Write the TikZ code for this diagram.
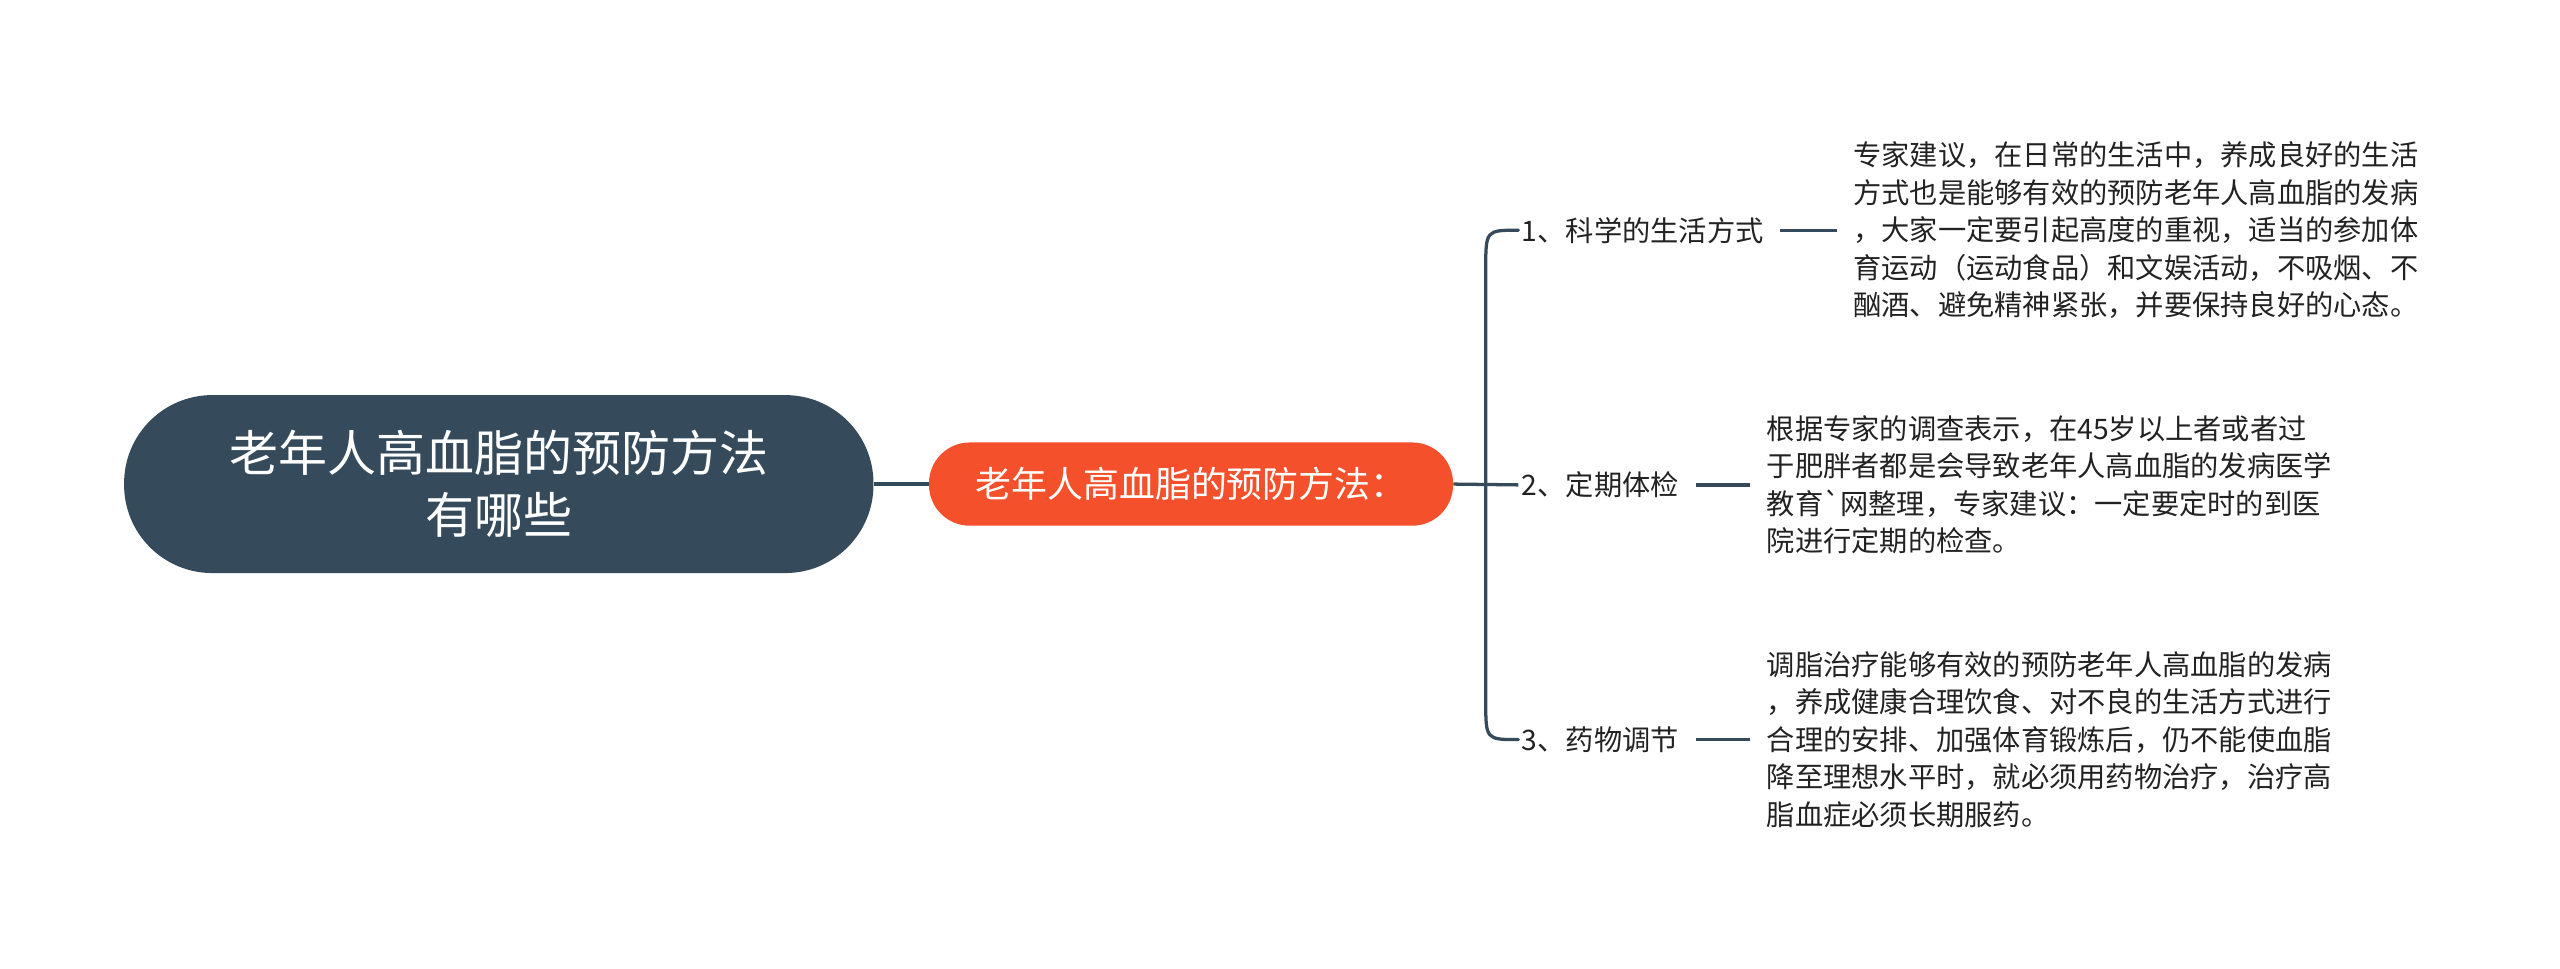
\documentclass[tikz,border=0pt]{standalone}
\usepackage{fontspec}
\setmainfont{Noto Sans CJK SC}
\newfontfamily\plainf{Noto Sans CJK SC}
\definecolor{dark}{HTML}{354A5A}
\definecolor{hot}{HTML}{F4502B}
\definecolor{txt}{HTML}{222222}
\tikzset{
  line/.style={draw=dark,line width=2pt},
  leaf/.style={anchor=west,align=left,text=txt,font=\fontsize{17.3}{23}\selectfont,inner sep=0pt},
  lab/.style={anchor=west,text=txt,font=\fontsize{17.3}{20}\selectfont,inner sep=2pt},
}
\begin{document}
\begin{tikzpicture}[x=1pt,y=-1pt]
\useasboundingbox[fill=white] (0,0) rectangle (1568,593);
\node[fill=dark,rounded corners=54pt,minimum width=459pt,minimum height=109pt,text=white,align=center,font=\fontsize{30}{38}\selectfont] (root) at (305.5,296.5) {老年人高血脂的预防方法\\有哪些};
\node[fill=hot,rounded corners=25pt,minimum width=321pt,minimum height=51pt,text=white,font=\fontsize{22}{26}\selectfont] (mid) at (729.5,296.5) {老年人高血脂的预防方法：};
\draw[line] (root.east) -- (mid.west);
\node[lab] (b1) at (930,141) {1、科学的生活方式};
\node[lab] (b2) at (930,297) {2、定期体检};
\node[lab] (b3) at (930,453) {3、药物调节};
\draw[line] (mid.east) -- (b2.west);
\draw[line,line cap=round] (b1.west) .. controls (910,141) .. (910,165) -- (910,429) .. controls (910,453) .. (b3.west);
\node[leaf] (t1) at (1135,141) {专家建议，在日常的生活中，养成良好的生活\\方式也是能够有效的预防老年人高血脂的发病\\，大家一定要引起高度的重视，适当的参加体\\育运动（运动食品）和文娱活动，不吸烟、不\\酗酒、避免精神紧张，并要保持良好的心态。};
\node[leaf] (t2) at (1082,297) {根据专家的调查表示，在45岁以上者或者过\\于肥胖者都是会导致老年人高血脂的发病医学\\教育{\plainf`}网整理，专家建议：一定要定时的到医\\院进行定期的检查。};
\node[leaf] (t3) at (1082,453) {调脂治疗能够有效的预防老年人高血脂的发病\\，养成健康合理饮食、对不良的生活方式进行\\合理的安排、加强体育锻炼后，仍不能使血脂\\降至理想水平时，就必须用药物治疗，治疗高\\脂血症必须长期服药。};
\draw[line] ([xshift=8pt]b1.east) -- ([xshift=-10pt]t1.west);
\draw[line] ([xshift=8pt]b2.east) -- ([xshift=-10pt]t2.west);
\draw[line] ([xshift=8pt]b3.east) -- ([xshift=-10pt]t3.west);
\end{tikzpicture}
\end{document}
